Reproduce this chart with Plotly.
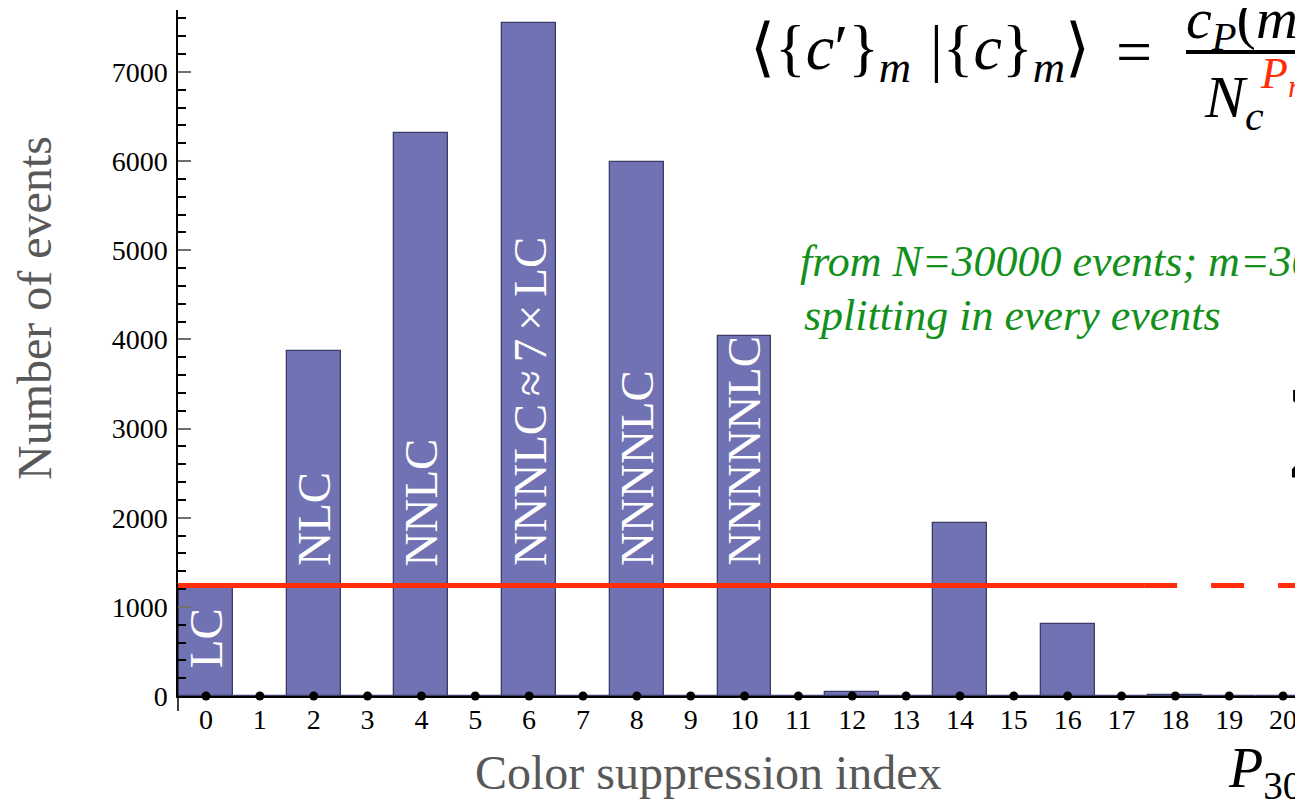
import plotly.graph_objects as go

# ---------------- data ----------------
index = list(range(21))
tick_labels = [str(i) for i in index]
counts = [1225, 0, 3875, 0, 6319, 0, 7545, 0, 5995, 0, 4034, 0,
          42, 0, 1942, 0, 808, 0, 10, 0, 3]
bar_labels = ["LC", "", "NLC", "", "NNLC", "",
              "NNNLC\u2006\u2248\u20067\u2006\u00d7\u2006LC", "",
              "NNNNLC", "", "NNNNNLC"]
baseline_points = [0] * len(index)
reference_level = 1240
y_ticks = [0, 1000, 2000, 3000, 4000, 5000, 6000, 7000]

# ---------------- style / layout ----------------
OFF = 8                      # page body margin in the browser
W, H = 1303 - OFF, 800 - OFF
L, T, B = 178 - OFF, 10 - OFF, 104
R = 0
PW, PH = W - L - R, H - T - B
SERIF = "Liberation Serif"
BAR = "#7072b3"
BAR_EDGE = "#3c3c68"
RED = "#ff2d0a"
GREEN = "#12901a"
GRAY = "#585858"
X_RANGE = [-0.52, 20.37]
Y_RANGE = [0, 7695]
SOLID_UNTIL = 17.42
LABEL_Y_FIRST = 290
LABEL_Y = 1435


def px(xpix):
    """page pixel -> paper x"""
    return (xpix - OFF - L) / PW


def py(ypix):
    """page pixel -> paper y"""
    return (H - B - (ypix - OFF)) / PH


def ifont(size, color, family=SERIF):
    return dict(family=family, size=size, color=color, style="italic")


fig = go.Figure()

fig.add_trace(go.Bar(
    x=index, y=counts, width=1,
    marker=dict(color=BAR, line=dict(color=BAR_EDGE, width=1.3)),
    hoverinfo="x+y", showlegend=False,
))

fig.add_trace(go.Scatter(
    x=[X_RANGE[0] - 0.05, SOLID_UNTIL], y=[reference_level, reference_level],
    mode="lines", line=dict(color=RED, width=5), showlegend=False,
    cliponaxis=False, hoverinfo="skip",
))
fig.add_trace(go.Scatter(
    x=[SOLID_UNTIL, X_RANGE[1] + 1], y=[reference_level, reference_level],
    mode="lines", line=dict(color=RED, width=5, dash="33px,34px"),
    showlegend=False, hoverinfo="skip",
))

fig.add_trace(go.Scatter(
    x=index, y=baseline_points, mode="markers",
    marker=dict(color="black", size=9), cliponaxis=False,
    showlegend=False, hoverinfo="skip",
))

annotations = []
for i, lab in enumerate(bar_labels):
    if not lab:
        continue
    annotations.append(dict(
        x=index[i], y=LABEL_Y_FIRST if i == 0 else LABEL_Y,
        xref="x", yref="y", text=lab, showarrow=False, textangle=-90,
        xanchor="center", yanchor="bottom",
        font=dict(family=SERIF, size=47, color="white"),
    ))

annotations.append(dict(
    x=px(34), y=py(308), xref="paper", yref="paper", text="Number of events",
    showarrow=False, textangle=-90, xanchor="center", yanchor="middle",
    font=dict(family=SERIF, size=48, color=GRAY),
))
annotations.append(dict(
    x=px(708), y=py(772), xref="paper", yref="paper",
    text="Color suppression index", showarrow=False,
    xanchor="center", yanchor="middle",
    font=dict(family=SERIF, size=48, color=GRAY),
))

annotations.append(dict(
    x=px(798), y=py(262), xref="paper", yref="paper",
    text="from N=30000 events; m=30", showarrow=False,
    xanchor="left", yanchor="middle", font=ifont(44, GREEN),
))
annotations.append(dict(
    x=px(802), y=py(316), xref="paper", yref="paper",
    text="splitting in every events", showarrow=False,
    xanchor="left", yanchor="middle", font=ifont(44, GREEN),
))

annotations.append(dict(
    x=px(748), y=py(52), xref="paper", yref="paper",
    text="\u27e8{<i>c</i>\u2032}<sub><i>m</i></sub>", showarrow=False,
    xanchor="left", yanchor="middle",
    font=dict(family=SERIF, size=64, color="black"),
))
annotations.append(dict(
    x=px(928), y=py(52), xref="paper", yref="paper",
    text="|{<i>c</i>}<sub><i>m</i></sub>\u27e9", showarrow=False,
    xanchor="left", yanchor="middle",
    font=dict(family=SERIF, size=64, color="black"),
))
annotations.append(dict(
    x=px(1114), y=py(52), xref="paper", yref="paper",
    text="=", showarrow=False, xanchor="left", yanchor="middle",
    font=dict(family=SERIF, size=64, color="black"),
))
annotations.append(dict(
    x=px(1184), y=py(22), xref="paper", yref="paper",
    text="<i>c</i><sub><i>P</i></sub>(<i>m</i>)", showarrow=False,
    xanchor="left", yanchor="middle",
    font=dict(family=SERIF, size=58, color="black"),
))
annotations.append(dict(
    x=px(1202), y=py(102), xref="paper", yref="paper",
    text="<i>N</i><sub><i>c</i></sub>", showarrow=False,
    xanchor="left", yanchor="middle",
    font=dict(family=SERIF, size=60, color="black"),
))
annotations.append(dict(
    x=px(1258), y=py(76), xref="paper", yref="paper",
    text="<i>P</i><sub><i>r</i></sub>", showarrow=False,
    xanchor="left", yanchor="middle",
    font=dict(family=SERIF, size=44, color=RED),
))
annotations.append(dict(
    x=px(1288), y=py(426), xref="paper", yref="paper",
    text="<b>\u2211</b>", showarrow=False, xanchor="left", yanchor="middle",
    font=dict(family="DejaVu Sans", size=96, color="black"),
))
annotations.append(dict(
    x=px(1226), y=py(772), xref="paper", yref="paper",
    text="<i>P</i><sub>30</sub>", showarrow=False,
    xanchor="left", yanchor="middle",
    font=dict(family=SERIF, size=56, color="black"),
))

shapes = [
    dict(type="line", xref="paper", yref="paper", x0=0, x1=0,
         y0=0, y1=py(711), line=dict(color="black", width=1.5)),
    dict(type="line", xref="paper", yref="paper", x0=px(1186), x1=px(1330),
         y0=py(52), y1=py(52), line=dict(color="black", width=4)),
]

fig.update_layout(
    width=W, height=H,
    margin=dict(l=L, r=R, t=T, b=B, pad=0),
    paper_bgcolor="white", plot_bgcolor="white",
    bargap=0, showlegend=False,
    annotations=annotations, shapes=shapes,
    font=dict(family=SERIF, color="black"),
    xaxis=dict(
        range=X_RANGE, tickmode="array", tickvals=index, ticktext=tick_labels,
        showline=True, linecolor="black", linewidth=1.5, showgrid=False,
        zeroline=False, ticks="", ticklabelstandoff=-2,
        tickfont=dict(family=SERIF, size=28, color="black"),
    ),
    yaxis=dict(
        range=Y_RANGE, tickmode="array", tickvals=y_ticks,
        showline=True, linecolor="black", linewidth=1.5, showgrid=False,
        zeroline=False, ticks="inside", ticklen=13, tickwidth=1.5,
        tickcolor="#707070", ticklabelstandoff=3,
        tickfont=dict(family=SERIF, size=28, color="black"),
        minor=dict(ticks="inside", ticklen=8, tickwidth=1.5,
                   tickcolor="black", tickmode="linear", tick0=0, dtick=200,
                   showgrid=False),
    ),
)

fig.write_html("out.html")
